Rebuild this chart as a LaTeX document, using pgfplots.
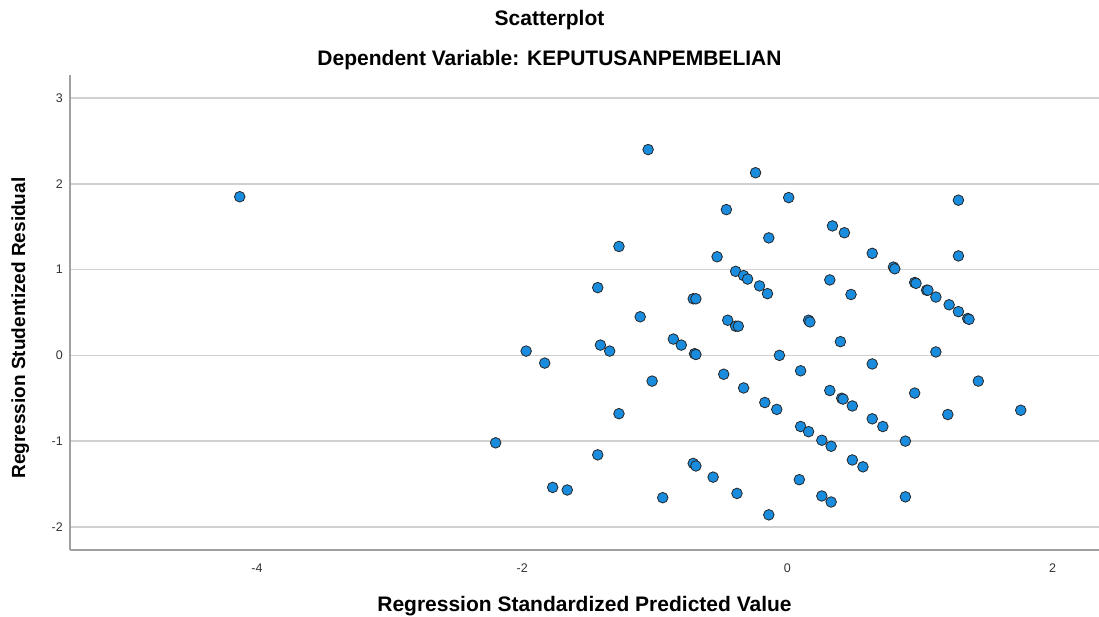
\documentclass[border=0pt]{standalone}
\usepackage{fontspec}
\setmainfont{Liberation Sans}
\usepackage{pgfplots}
\pgfplotsset{compat=1.18}
\definecolor{dotblue}{RGB}{26,140,222}
\definecolor{gridgray}{RGB}{208,208,208}
\definecolor{axisgray}{RGB}{160,160,160}
\begin{document}
\begin{tikzpicture}
\path[use as bounding box] (0,0) rectangle (1099pt,616pt);
\begin{axis}[
  at={(70pt,66pt)}, anchor=south west,
  scale only axis, width=1029pt, height=475pt,
  xmin=-5.41, xmax=2.35, ymin=-2.27, ymax=3.27,
  xtick={-4,-2,0,2}, ytick={-2,-1,0,1,2,3},
  axis lines*=left,
  axis line style={axisgray, line width=1.5pt},
  major tick length=0pt,
  ymajorgrids, grid style={gridgray, line width=1.5pt},
  /pgf/number format/assume math mode=true,
  tick label style={font=\fontsize{12.5}{14}\selectfont, text=black!80},
  yticklabel style={inner sep=0pt, xshift=-7pt},
  xticklabel style={inner sep=0pt, yshift=-13.5pt},
  clip=false,
]
\addplot[only marks, mark=*, mark size=5.3pt,
  mark options={fill=dotblue, draw=black!85, line width=0.8pt}] coordinates {
(-4.13,1.85) (-2.20,-1.02) (-1.97,0.05) (-1.83,-0.09) (-1.77,-1.54)
(-1.66,-1.57) (-1.43,0.79) (-1.41,0.12) (-1.34,0.05) (-1.43,-1.16)
(-1.27,1.27) (-1.27,-0.68) (-1.11,0.45) (-1.05,2.40) (-1.02,-0.30)
(-0.94,-1.66) (-0.86,0.19) (-0.80,0.12) (-0.71,0.66) (-0.69,0.66)
(-0.70,0.02) (-0.69,0.01) (-0.71,-1.26) (-0.69,-1.29) (-0.56,-1.42)
(-0.53,1.15) (-0.48,-0.22) (-0.46,1.70) (-0.45,0.41) (-0.39,0.98)
(-0.39,0.34) (-0.37,0.34) (-0.38,-1.61) (-0.33,0.93) (-0.30,0.89)
(-0.33,-0.38) (-0.24,2.13) (-0.21,0.81) (-0.17,-0.55) (-0.15,0.72)
(-0.14,1.37) (-0.14,-1.86) (-0.08,-0.63) (-0.06,0.00) (0.01,1.84)
(0.09,-1.45) (0.10,-0.18) (0.10,-0.83) (0.16,-0.89) (0.16,0.41)
(0.17,0.39) (0.26,-0.99) (0.26,-1.64) (0.32,0.88) (0.32,-0.41)
(0.33,-1.06) (0.33,-1.71) (0.34,1.51) (0.40,0.16) (0.41,-0.50)
(0.42,-0.51) (0.43,1.43) (0.48,0.71) (0.49,-0.59) (0.49,-1.22)
(0.57,-1.30) (0.64,1.19) (0.64,-0.10) (0.64,-0.74) (0.72,-0.83)
(0.80,1.03) (0.81,1.01) (0.89,-1.00) (0.89,-1.65) (0.96,0.85)
(0.97,0.84) (0.96,-0.44) (1.05,0.76) (1.06,0.76) (1.12,0.68)
(1.12,0.04) (1.21,-0.69) (1.22,0.59) (1.29,1.81) (1.29,1.16)
(1.29,0.51) (1.36,0.43) (1.37,0.42) (1.44,-0.30) (1.76,-0.64)
};
\end{axis}
\node[anchor=base, font=\fontsize{21}{24}\selectfont\bfseries] at (549.5pt,590.3pt) {Scatterplot};
\node[anchor=base, font=\fontsize{21}{24}\selectfont\bfseries] at (549.5pt,550pt) {Dependent Variable: KEPUTUSANPEMBELIAN};
\node[anchor=base, font=\fontsize{21}{24}\selectfont\bfseries] at (584.5pt,4.5pt) {Regression Standardized Predicted Value};
\node[anchor=base, rotate=90, font=\fontsize{19}{22}\selectfont\bfseries] at (25pt,288pt) {Regression Studentized Residual};
\end{tikzpicture}
\end{document}
